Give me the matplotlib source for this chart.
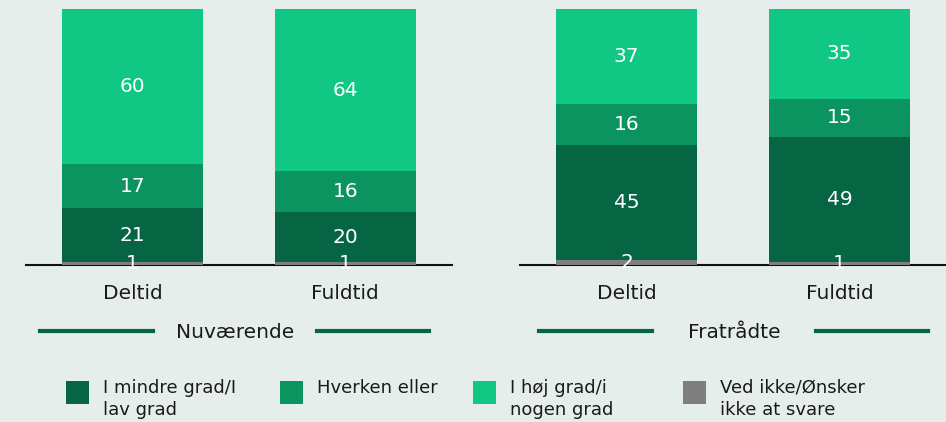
import matplotlib.pyplot as plt
from matplotlib.patches import Rectangle
import numpy as np

plt.rcParams['font.family'] = ['DejaVu Sans']

groups = ["Nuværende", "Fratrådte"]
categories = ["Deltid", "Fuldtid"]
series = ["Ved ikke/Ønsker\nikke at svare", "I mindre grad/I\nlav grad",
          "Hverken eller", "I høj grad/i\nnogen grad"]
colors = ["#7f7f7f", "#066644", "#0c9460", "#10c784"]

# values per group: rows = series (bottom to top), cols = categories
nuvaerende = [[1, 1], [21, 20], [17, 16], [60, 64]]
fratraadte = [[2, 1], [45, 49], [16, 15], [37, 35]]
data = [nuvaerende, fratraadte]

bg = "#e6eeeb"
txt = "#1a1a1a"
W, H = 946, 422
fig = plt.figure(figsize=(9.46, 4.22), dpi=100, facecolor=bg)

ax_rects = [[0.0275, 0.372, 0.450, 0.607], [0.5497, 0.372, 0.4503, 0.607]]
title_cx = [235, 734]  # pixel centres of the group titles
x = np.arange(len(categories))

for rect, vals, title, tcx in zip(ax_rects, data, groups, title_cx):
    ax = fig.add_axes(rect)
    ax.set_facecolor(bg)
    vals = np.array(vals, dtype=float)
    shares = vals / vals.sum(axis=0) * 100
    bottom = np.zeros(len(categories))
    for i in range(len(series)):
        ax.bar(x, shares[i], 0.662, bottom=bottom, color=colors[i], edgecolor="none")
        for j in range(len(categories)):
            ax.text(x[j], bottom[j] + shares[i][j] / 2, f"{vals[i][j]:.0f}",
                    ha="center", va="center", color="white", fontsize=14.5)
        bottom += shares[i]
    ax.set_xlim(-0.5, 1.5)
    ax.set_ylim(0, 100)
    ax.set_xticks(x)
    ax.set_xticklabels(categories, fontsize=14.5, color=txt)
    ax.tick_params(axis="x", length=0, pad=14)
    ax.set_yticks([])
    for s in ["top", "right", "left"]:
        ax.spines[s].set_visible(False)
    ax.spines["bottom"].set_color("#111111")
    ax.spines["bottom"].set_linewidth(1.5)
    ax.spines["bottom"].set_zorder(0.5)

    # group title with lines either side
    ly = 1 - 331 / H
    fig.text(tcx / W, 1 - 332 / H, title, ha="center", va="center",
             fontsize=14.5, color=txt)
    fig.add_artist(plt.Line2D([(tcx - 195) / W, (tcx - 82) / W], [ly, ly],
                              color="#066644", lw=3))
    fig.add_artist(plt.Line2D([(tcx + 82) / W, (tcx + 194) / W], [ly, ly],
                              color="#066644", lw=3))

# legend: square + top-aligned text
legend_order = [1, 2, 3, 0]
sq_x = [66, 280, 473, 683]
for k, i in enumerate(legend_order):
    fig.add_artist(Rectangle((sq_x[k] / W, 1 - 404 / H), 23 / W, 23 / H,
                             transform=fig.transFigure, facecolor=colors[i],
                             edgecolor="none"))
    fig.text((sq_x[k] + 37) / W, 1 - 379 / H, series[i], ha="left", va="top",
             fontsize=13, color=txt, linespacing=1.3)

fig.savefig("out.png", dpi=100, facecolor=bg)
